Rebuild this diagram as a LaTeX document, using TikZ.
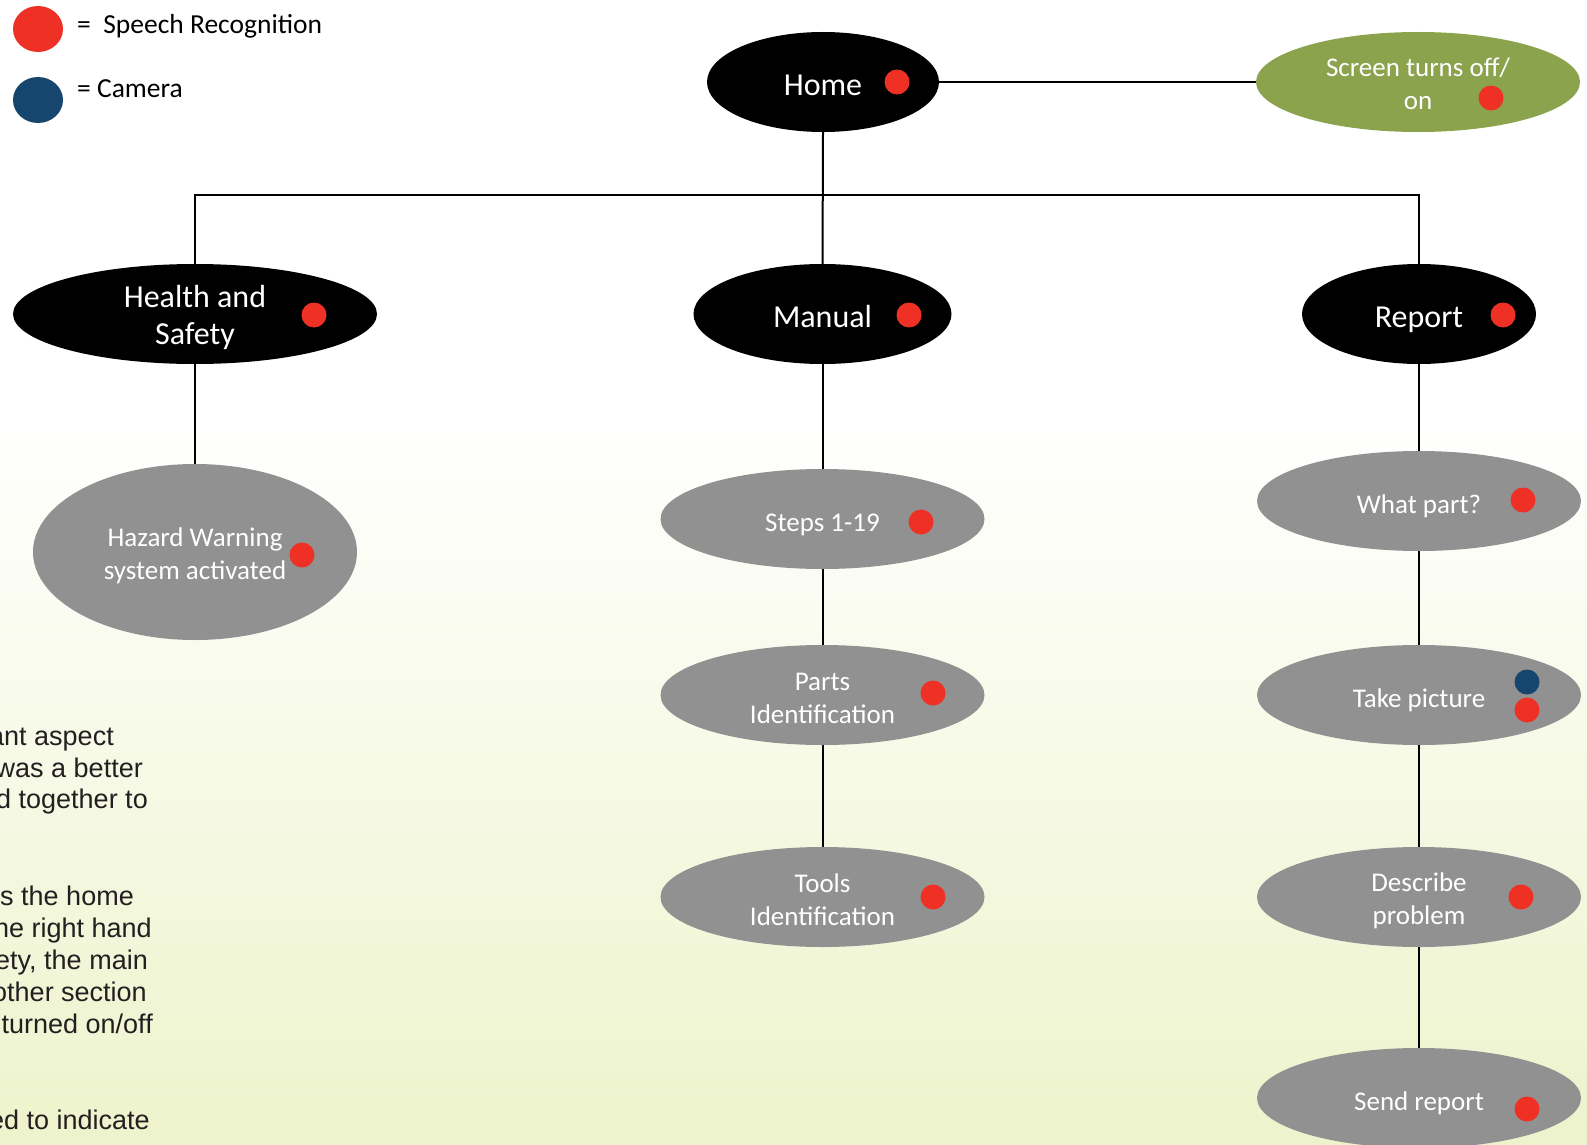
\documentclass[tikz,border=0pt]{standalone}
\usepackage{fontspec}
\setmainfont{Carlito}
\newfontfamily\notefont{Liberation Sans}
\usetikzlibrary{shapes.geometric}
\definecolor{speechred}{HTML}{EE3124}
\definecolor{camblue}{HTML}{16466E}
\definecolor{nodegray}{HTML}{919191}
\definecolor{leafgreen}{HTML}{8CA34E}
\definecolor{paleground}{HTML}{EDF3CB}
\definecolor{notegray}{HTML}{231F20}

\begin{document}
\begin{tikzpicture}[x=1pt,y=-1pt,
  link/.style={line width=2pt, black},
  % black section ovals, single line of text
  topbox/.style={ellipse, inner sep=0pt, fill=black, text=white, align=center,
    minimum height=100pt, font=\fontsize{32}{36}\selectfont,
    text height=26.5pt, text depth=0pt},
  % grey step ovals, single line of text
  subbox/.style={ellipse, inner sep=0pt, fill=nodegray, text=white, align=center,
    minimum width=324pt, minimum height=100pt, font=\fontsize{27}{33}\selectfont,
    text height=24pt, text depth=0pt},
  % empty ovals whose two-line caption is set as a label
  topplain/.style={ellipse, inner sep=0pt, fill=black, minimum height=100pt},
  subplain/.style={ellipse, inner sep=0pt, fill=nodegray,
    minimum width=324pt, minimum height=100pt},
  toplines/.style={inner sep=0pt, text=white, align=center,
    font=\fontsize{32}{36.5}\selectfont, yshift=-3.5pt},
  sublines/.style={inner sep=0pt, text=white, align=center,
    font=\fontsize{27}{33}\selectfont, yshift=-3pt},
  sdot/.style={circle, fill=speechred, inner sep=0pt, minimum size=25pt},
  cdot/.style={circle, fill=camblue, inner sep=0pt, minimum size=25pt},
  notetext/.style={anchor=base east, inner sep=0pt, text=notegray,
    font=\notefont\fontsize{27}{32}\selectfont},
  keytext/.style={anchor=base west, inner sep=0pt, font=\fontsize{27.5}{32}\selectfont}
]
% page and background wash
\useasboundingbox (0,0) rectangle (1587,1145);
\clip (0,0) rectangle (1587,1145);
\fill[white] (0,0) rectangle (1587,1145);
\shade[top color=white, bottom color=paleground] (0,420) rectangle (1587,1145.5);

% legend
\node[ellipse, fill=speechred, minimum width=50pt, minimum height=46pt, inner sep=0pt] (keyred) at (38,29) {};
\node[ellipse, fill=camblue, minimum width=50pt, minimum height=46pt, inner sep=0pt] (keyblue) at (38,100) {};
\node[keytext] (keyredtext) at (77,34) {=\ \ Speech Recognition};
\node[keytext] (keybluetext) at (77,98) {= Camera};

% side notes
\node[notetext] (n1) at (114,745) {ant aspect};
\node[notetext] (n2) at (143,777) {was a better};
\node[notetext] (n3) at (148,808) {d together to};
\node[notetext] (n4) at (134,905) {s the home};
\node[notetext] (n5) at (152,937) {ne right hand};
\node[notetext] (n6) at (148,969) {ety, the main};
\node[notetext] (n7) at (147,1001) {other section};
\node[notetext] (n8) at (153,1033) {turned on/off};
\node[notetext] (n9) at (150,1129) {ed to indicate};

% top level
\node[topbox, minimum width=232pt] (home) at (823,82) {Home};
\node[subplain, fill=leafgreen,
  label={[sublines, yshift=1.5pt, name=screentext]center:Screen turns off/\\on}]
  (screen) at (1418,82) {};

% sections
\node[topplain, minimum width=364pt,
  label={[toplines, name=hstext]center:Health and\\Safety}] (hs) at (195,314) {};
\node[topbox, minimum width=258pt] (manual) at (822.5,314) {Manual};
\node[topbox, minimum width=234pt] (report) at (1419,314) {Report};

% health and safety branch
\node[subplain, minimum height=176pt,
  label={[sublines, yshift=-1pt, name=hazardtext]center:Hazard Warning\\system activated}]
  (hazard) at (195,552) {};

% manual branch
\node[subbox] (steps) at (822.5,519) {Steps 1-19};
\node[subplain, label={[sublines, name=partstext]center:Parts\\Identification}]
  (parts) at (822.5,695) {};
\node[subplain, label={[sublines, name=toolstext]center:Tools\\Identification}]
  (tools) at (822.5,897) {};

% report branch
\node[subbox] (whatpart) at (1419,501) {What part?};
\node[subbox] (picture) at (1419,695) {Take picture};
\node[subplain, label={[sublines, yshift=-1pt, name=describetext]center:Describe\\problem}]
  (describe) at (1419,897) {};
\node[subbox] (send) at (1419,1098) {Send report};

% connectors
\coordinate (bus) at (823,195);
\draw[link] (home.east) -- (screen.west);
\draw[link] (home.south) -- (manual.north);
\draw[link] (hs.north) |- (bus) -| (report.north);
\draw[link] (hs.south) -- (hazard.north);
\draw[link] (manual.south) -- (steps.north);
\draw[link] (steps.south) -- (parts.north);
\draw[link] (parts.south) -- (tools.north);
\draw[link] (report.south) -- (whatpart.north);
\draw[link] (whatpart.south) -- (picture.north);
\draw[link] (picture.south) -- (describe.north);
\draw[link] (describe.south) -- (send.north);

% input markers
\node[sdot] (dhome) at (897,82) {};
\node[sdot] (dscreen) at (1491,98) {};
\node[sdot] (dhs) at (314,315) {};
\node[sdot] (dmanual) at (909,315) {};
\node[sdot] (dreport) at (1503,315) {};
\node[sdot] (dhazard) at (302,555) {};
\node[sdot] (dsteps) at (921,522) {};
\node[sdot] (dparts) at (933,693) {};
\node[sdot] (dtools) at (933,897) {};
\node[sdot] (dwhat) at (1523,500) {};
\node[cdot] (dcam) at (1527,682) {};
\node[sdot] (dpic) at (1527,710) {};
\node[sdot] (ddescribe) at (1521,897) {};
\node[sdot] (dsend) at (1527,1109) {};
\end{tikzpicture}
\end{document}
